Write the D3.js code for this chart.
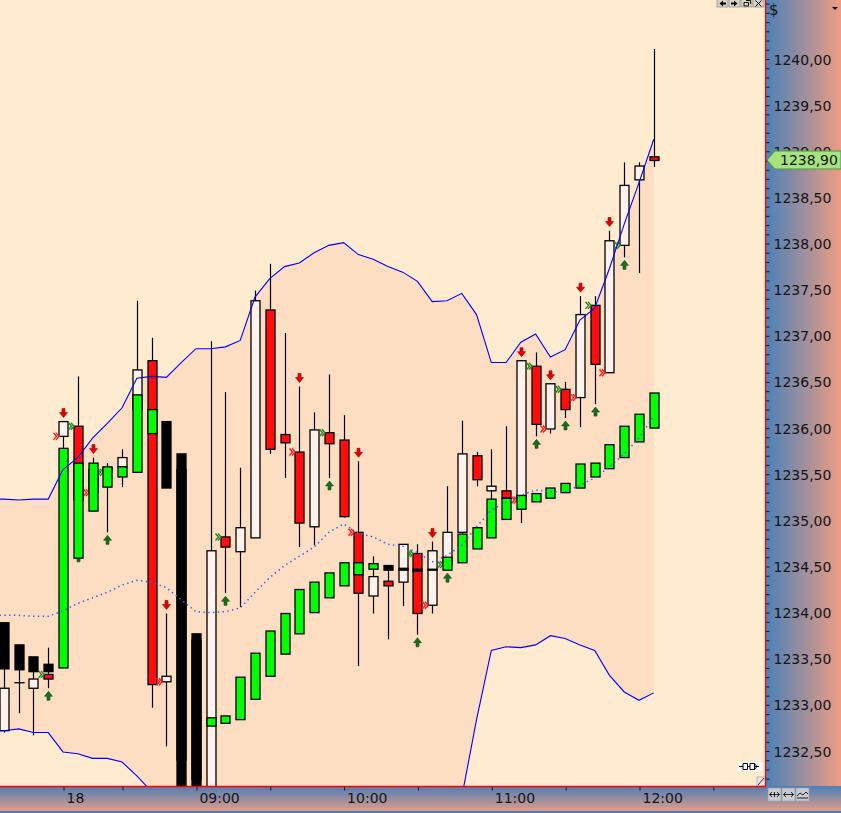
<!DOCTYPE html>
<html><head><meta charset="utf-8">
<script src="https://cdn.jsdelivr.net/npm/d3@7"></script>
<style>body{margin:0;background:#FFEBD0;overflow:hidden} svg{display:block}</style>
</head><body><svg id="c" width="841" height="813"></svg>
<script>
// ---------- DATA (bar index: 0 = first bar of the 18th, 6-minute bars) ----------
const barIndex = [-4,-3,-2,-1,0,1,2,3,4,5,6,7,8,9,10,11,12,13,14,15,16,17,18,19,20,21,22,23,24,25,26,27,28,29,30,31,32,33,34,35,36,37,38,39,40];
const openA  = [1232.72,1233.24,1233.18,1233.33,1235.91,1236.02,1235.30,1235.52,1235.58,1236.20,1236.73,1233.25,1235.55,1233.70,1231.97,1234.82,1234.66,1234.81,1237.28,1235.93,1235.74,1234.93,1235.95,1235.87,1234.87,1234.18,1234.34,1234.33,1234.64,1234.08,1234.52,1234.87,1235.70,1235.32,1235.32,1235.22,1236.67,1235.99,1236.42,1236.33,1237.33,1236.60,1237.98,1238.69,1238.94];
const highA  = [1233.49,1233.55,1233.40,1233.62,1236.07,1236.56,1235.68,1235.62,1235.77,1237.38,1236.98,1233.99,1235.65,1233.75,1236.94,1236.39,1235.57,1237.49,1237.78,1237.03,1236.45,1236.17,1236.58,1236.14,1235.64,1234.61,1234.51,1234.74,1234.74,1234.77,1235.37,1236.08,1235.74,1235.77,1236.02,1236.73,1236.82,1236.48,1236.50,1237.43,1237.43,1238.14,1238.88,1238.88,1240.11];
const lowA   = [1232.70,1232.91,1232.67,1233.18,1234.14,1234.68,1235.13,1234.87,1235.36,1235.55,1232.97,1232.55,1232.13,1231.97,1231.86,1234.21,1234.06,1234.81,1235.72,1235.46,1234.71,1234.73,1235.46,1235.03,1233.42,1233.99,1233.71,1234.07,1233.76,1233.99,1234.46,1234.75,1235.37,1235.20,1235.10,1234.97,1235.91,1235.94,1236.11,1236.01,1236.26,1236.60,1237.85,1237.68,1238.83];
const closeA = [1233.18,1233.24,1233.28,1233.28,1236.07,1235.22,1235.55,1235.57,1235.68,1236.63,1233.22,1233.31,1232.40,1232.19,1234.67,1234.71,1234.92,1237.38,1235.77,1235.84,1234.97,1235.98,1235.83,1235.04,1234.21,1234.39,1234.29,1234.74,1233.99,1234.67,1234.87,1235.72,1235.44,1235.37,1235.24,1236.73,1236.04,1236.48,1236.20,1237.23,1236.69,1238.03,1238.63,1238.84,1238.90];
const haOpen  = [1233.89,1233.65,1233.52,1233.44,1233.40,1234.59,1235.10,1235.36,1235.47,1235.52,1235.94,1236.07,1235.72,1233.77,1232.77,1232.80,1232.84,1233.06,1233.31,1233.55,1233.77,1234.00,1234.16,1234.29,1234.41,1234.47,1234.51,1234.48,1234.47,1234.47,1234.46,1234.54,1234.69,1234.81,1235.01,1235.12,1235.20,1235.24,1235.30,1235.35,1235.47,1235.56,1235.68,1235.85,1236.00];
const haClose = [1233.39,1233.38,1233.36,1233.36,1235.78,1235.62,1235.62,1235.58,1235.58,1236.36,1236.20,1235.35,1231.83,1231.77,1232.86,1232.88,1233.30,1233.56,1233.80,1233.99,1234.25,1234.33,1234.43,1234.54,1234.54,1234.53,1234.46,1234.46,1234.45,1234.46,1234.60,1234.85,1234.92,1235.23,1235.24,1235.27,1235.29,1235.35,1235.40,1235.61,1235.62,1235.82,1236.02,1236.15,1236.38];
const bandUpper  = [1235.23,1235.22,1235.23,1235.23,1235.55,1235.68,1235.89,1236.05,1236.22,1236.54,1236.56,1236.55,1236.71,1236.86,1236.86,1236.88,1236.95,1237.42,1237.62,1237.75,1237.79,1237.90,1237.98,1238.01,1237.88,1237.83,1237.75,1237.69,1237.59,1237.37,1237.38,1237.46,1237.23,1236.71,1236.71,1236.93,1237.02,1236.77,1236.85,1237.17,1237.30,1237.73,1238.21,1238.66,1239.13];
const bandMiddle = [1233.97,1233.97,1233.96,1233.96,1234.02,1234.10,1234.16,1234.22,1234.30,1234.35,1234.33,1234.27,1234.14,1234.01,1234.00,1234.01,1234.05,1234.22,1234.38,1234.51,1234.61,1234.71,1234.87,1234.96,1234.86,1234.82,1234.74,1234.72,1234.65,1234.55,1234.62,1234.73,1234.93,1235.11,1235.20,1235.27,1235.33,1235.31,1235.31,1235.38,1235.46,1235.58,1235.72,1235.89,1236.13];
const bandLower  = [1232.72,1232.74,1232.70,1232.70,1232.49,1232.47,1232.42,1232.42,1232.38,1232.23,1232.06,1231.97,1231.57,1231.16,1231.13,1231.13,1231.15,1231.03,1231.13,1231.26,1231.44,1231.52,1231.76,1231.91,1231.85,1231.81,1231.74,1231.75,1231.70,1231.73,1231.87,1232.00,1232.84,1233.59,1233.63,1233.62,1233.65,1233.75,1233.72,1233.65,1233.59,1233.32,1233.14,1233.05,1233.13];
// +1 = buy signal (green), -1 = sell signal (red)
const signal = [0,0,0,1,-1,1,-1,1,0,0,0,-1,0,0,0,1,0,0,0,0,-1,0,1,0,-1,0,0,0,1,-1,1,0,0,0,0,-1,1,-1,1,-1,1,-1,1,0,0];
const timeTicks  = [0,4,9,14,19,24,29,34,39,44];
const timeLabels = ["18","","09:00","","10:00","","11:00","","12:00",""];
const priceTicks  = [1232.5,1233,1233.5,1234,1234.5,1235,1235.5,1236,1236.5,1237,1237.5,1238,1238.5,1239,1239.5,1240];
const priceLabels = ["1232,50","1233,00","1233,50","1234,00","1234,50","1235,00","1235,50","1236,00","1236,50","1237,00","1237,50","1238,00","1238,50","1239,00","1239,50","1240,00"];
const lastPrice = 1238.90, lastPriceLabel = "1238,90";

// ---------- LAYOUT ----------
const W = 841, H = 813, PR = 765, PB = 786;
const svg = d3.select("#c");
const x = d3.scaleLinear().domain([0, 39]).range([63, 639]);
const y = d3.scaleLinear().domain([1232.5, 1240]).range([751, 59]);
const FONT = "DejaVu Sans, Verdana, sans-serif";

const defs = svg.append("defs");
const gR = defs.append("linearGradient").attr("id","gR").attr("x1","0").attr("x2","1").attr("y1","0").attr("y2","0");
gR.append("stop").attr("offset","0").attr("stop-color","#4A80B8");
gR.append("stop").attr("offset","1").attr("stop-color","#EE9D82");
const gB = defs.append("linearGradient").attr("id","gB").attr("x1","0").attr("x2","0").attr("y1","0").attr("y2","1");
gB.append("stop").attr("offset","0").attr("stop-color","#4A80B8");
gB.append("stop").attr("offset","1").attr("stop-color","#EE9D82");
defs.append("clipPath").attr("id","clip").append("rect").attr("x",0).attr("y",0).attr("width",PR).attr("height",PB);

svg.append("rect").attr("width",W).attr("height",H).attr("fill","#FFEBD0");

const bars = barIndex.map((b,i)=>({b, o:openA[i], h:highA[i], l:lowA[i], c:closeA[i],
  ho:haOpen[i], hc:haClose[i], up:bandUpper[i], mid:bandMiddle[i], lo:bandLower[i], s:signal[i]}));

const plot = svg.append("g").attr("clip-path","url(#clip)");

// band fill
plot.append("path").datum(bars)
  .attr("d", d3.area().x(d=>x(d.b)).y0(d=>y(d.lo)).y1(d=>y(d.up)))
  .attr("fill","#FDDEC2");
plot.append("path").datum([bars[0]])
  .attr("d", d=>`M0,${y(d[0].up)}H${x(d[0].b)}V${y(d[0].lo)}H0Z`).attr("fill","#FDDEC2");

const cx = d => Math.round(x(d.b)) + 0.5;

// real candles
const cg = plot.append("g");
cg.selectAll("line.w").data(bars).join("line")
  .attr("x1",cx).attr("x2",cx).attr("y1",d=>y(d.h)).attr("y2",d=>y(d.l))
  .attr("stroke","#000").attr("stroke-width",1.2);
cg.selectAll("rect.b").data(bars).join("rect")
  .attr("x",d=>cx(d)-4.5).attr("width",9)
  .attr("y",d=>y(Math.max(d.o,d.c))).attr("height",d=>Math.max(0.01,Math.abs(y(d.o)-y(d.c))))
  .attr("fill",d=>d.c>=d.o ? "#FFF1EC" : "#FF0C0C")
  .attr("stroke","#000").attr("stroke-width",1.3);

// signal markers
const sig = bars.filter(d=>d.s!==0);
const mg = plot.append("g");
mg.selectAll("path.arr").data(sig).join("path")
  .attr("transform",d=> d.s<0 ? `translate(${cx(d)},${y(d.h)-4})` : `translate(${cx(d)},${y(d.l)+3})`)
  .attr("d",d=> d.s<0 ? "M-1.5,-9L1.5,-9L1.5,-5L4,-5L0,0L-4,-5L-1.5,-5Z" : "M-1.5,9L1.5,9L1.5,5L4,5L0,0L-4,5L-1.5,5Z")
  .attr("fill",d=>d.s<0 ? "#E40000" : "#1C6E1C")
  .attr("stroke",d=>d.s<0 ? "#A00000" : "#0E4A0E").attr("stroke-width",0.6);
mg.selectAll("path.zig").data(sig).join("path")
  .attr("transform",d=>`translate(${cx(d)-7},${y(d.o)})`)
  .attr("d","M-3,-3.5L0,0L-3,3.5M-0.5,-3.5L2.5,0L-0.5,3.5")
  .attr("fill","none").attr("stroke",d=>d.s<0 ? "#FF1A1A" : "#1F8A1B").attr("stroke-width",1.4);

// Heikin-Ashi bodies
plot.append("g").selectAll("rect").data(bars).join("rect")
  .attr("x",d=>cx(d)-4.5).attr("width",9)
  .attr("y",d=>y(Math.max(d.ho,d.hc))).attr("height",d=>Math.max(0.8,Math.abs(y(d.ho)-y(d.hc))))
  .attr("fill",d=>d.hc>=d.ho ? "#00FF00" : "#000")
  .attr("stroke","#000").attr("stroke-width",1.3);

// bands
const lineFrom = (key) => d3.line().x(d=>x(d.b)).y(d=>y(d[key]));
const bandsData = [{b:-4.3, up:bars[0].up, mid:bars[0].mid, lo:bars[0].lo}, ...bars];
plot.append("path").datum(bandsData).attr("d",lineFrom("up")).attr("fill","none").attr("stroke","#0000FF").attr("stroke-width",1.1);
plot.append("path").datum(bandsData).attr("d",lineFrom("lo")).attr("fill","none").attr("stroke","#0000FF").attr("stroke-width",1.1);
plot.append("path").datum(bandsData).attr("d",lineFrom("mid")).attr("fill","none").attr("stroke","#3A5CFF").attr("stroke-width",1.5).attr("stroke-dasharray","1.4,3.4");

// small icon bottom-right of plot
const ic = svg.append("g").attr("transform","translate(738,762)");
ic.append("rect").attr("width",24).attr("height",9).attr("fill","#FFFFFF");
ic.append("path").attr("d","M1,4.5H5M5,1.5H9.5V7.5H5ZM12,1.5H16.5V7.5H12ZM9.5,4.5H12M16.5,4.5H21M16.5,1.5L19,4.5L16.5,7.5")
  .attr("fill","none").attr("stroke","#000").attr("stroke-width",1);
svg.append("rect").attr("x",757).attr("y",777).attr("width",8).attr("height",9).attr("fill","#E8E8E8").attr("stroke","#888").attr("stroke-width",0.5);
svg.append("path").attr("d","M758,785L764,778").attr("stroke","#333").attr("stroke-width",1);

// ---------- RIGHT AXIS ----------
svg.append("rect").attr("x",PR).attr("y",0).attr("width",W-PR).attr("height",PB).attr("fill","url(#gR)");
const minorTicks = d3.range(12322, 12407).map(v=>v/10);
const ra = svg.append("g").attr("transform",`translate(${PR+0.5},0)`)
  .call(d3.axisRight(y).tickValues(minorTicks).tickSize(4).tickPadding(4)
    .tickFormat(v=>{const k=priceTicks.findIndex(p=>Math.abs(p-v)<1e-6); return k>=0?priceLabels[k]:"";}));
ra.select(".domain").remove();
ra.selectAll(".tick line").attr("stroke","#1A1A1A");
ra.selectAll("text").attr("font-family",FONT).attr("font-size",14).attr("fill","#141414").attr("dy","0.36em");
svg.append("text").attr("x",769).attr("y",15).attr("font-family",FONT).attr("font-size",15).attr("fill","#141414").text("$");
svg.append("path").attr("d","M832,7H838L835,10Z").attr("fill","#000");

// last price tag (drawn over the axis label, as in the original)
const ty = Math.round(y(lastPrice));
svg.append("path").attr("d",`M767,${ty}L775,${ty-9}H841V${ty+9}H775Z`).attr("fill","#A6E27E").attr("stroke","#4E9A3A").attr("stroke-width",1);
svg.append("text").attr("x",780).attr("y",ty+5).attr("font-family",FONT).attr("font-size",14).attr("fill","#141414").text(lastPriceLabel);

// ---------- BOTTOM AXIS ----------
svg.append("rect").attr("x",0).attr("y",PB).attr("width",W).attr("height",H-PB).attr("fill","url(#gB)");
svg.append("rect").attr("x",0).attr("y",H-2).attr("width",W).attr("height",2).attr("fill","#4A80B8");
const ba = svg.append("g").attr("transform",`translate(0,${PB+0.5})`)
  .call(d3.axisBottom(x).tickValues(timeTicks).tickSize(4).tickFormat((d,i)=>timeLabels[i]));
ba.select(".domain").remove();
ba.selectAll(".tick line").attr("stroke","#1A1A1A").attr("transform","translate(0.5,0)");
ba.selectAll("text").attr("font-family",FONT).attr("font-size",14).attr("fill","#141414")
  .attr("text-anchor","start").attr("x",3).attr("y",7).attr("dy","0.71em");

// bottom-right buttons
const bb = svg.append("g").attr("transform","translate(768,788)");
[0,14,28].forEach((dx)=>{
  bb.append("rect").attr("x",dx).attr("y",0).attr("width",13).attr("height",13).attr("fill","#C9C9CF").attr("stroke","#9A9AA5").attr("stroke-width",0.6);
});
bb.append("path").attr("d","M1.5,6.5H11.5M1.5,6.5L4,4M1.5,6.5L4,9M11.5,6.5L9,4M11.5,6.5L9,9M6.5,4V9").attr("stroke","#111").attr("fill","none").attr("stroke-width",0.9);
bb.append("path").attr("d","M15.5,6.5H25.5M15.5,6.5L18,4M15.5,6.5L18,9M25.5,6.5L23,4M25.5,6.5L23,9").attr("stroke","#111").attr("fill","none").attr("stroke-width",0.9);
bb.append("path").attr("d","M29,8L32,5L35,7L38,4L40,6M29,10H40").attr("stroke","#111").attr("fill","none").attr("stroke-width",0.9);

// borders
svg.append("line").attr("x1",PR+0.5).attr("x2",PR+0.5).attr("y1",0).attr("y2",PB+1).attr("stroke","#FF0000").attr("stroke-width",1.2);
svg.append("line").attr("x1",0).attr("x2",PR+1).attr("y1",PB+0.5).attr("y2",PB+0.5).attr("stroke","#FF0000").attr("stroke-width",1.4);

// top window buttons
const tb = svg.append("g").attr("transform","translate(717,-1)");
[0,12,24,36].forEach(dx=>{
  tb.append("rect").attr("x",dx).attr("y",0).attr("width",11).attr("height",8).attr("fill","#D6D3CB").attr("stroke","#7A7A7A").attr("stroke-width",0.6);
});
tb.append("path").attr("d","M2.5,4.5L6,1.5V7.5ZM6,3.5H9V5.5H6Z").attr("fill","#000");
tb.append("path").attr("d","M20.5,4.5L17,1.5V7.5ZM17,3.5H14V5.5H17Z").attr("fill","#000");
tb.append("path").attr("d","M27,3.5H31.5V7H27ZM29,1.5H33.5V5").attr("fill","none").attr("stroke","#000").attr("stroke-width",0.9);
tb.append("path").attr("d","M38.5,1.5L44.5,7.5M44.5,1.5L38.5,7.5").attr("fill","none").attr("stroke","#000").attr("stroke-width",1);
</script></body></html>
